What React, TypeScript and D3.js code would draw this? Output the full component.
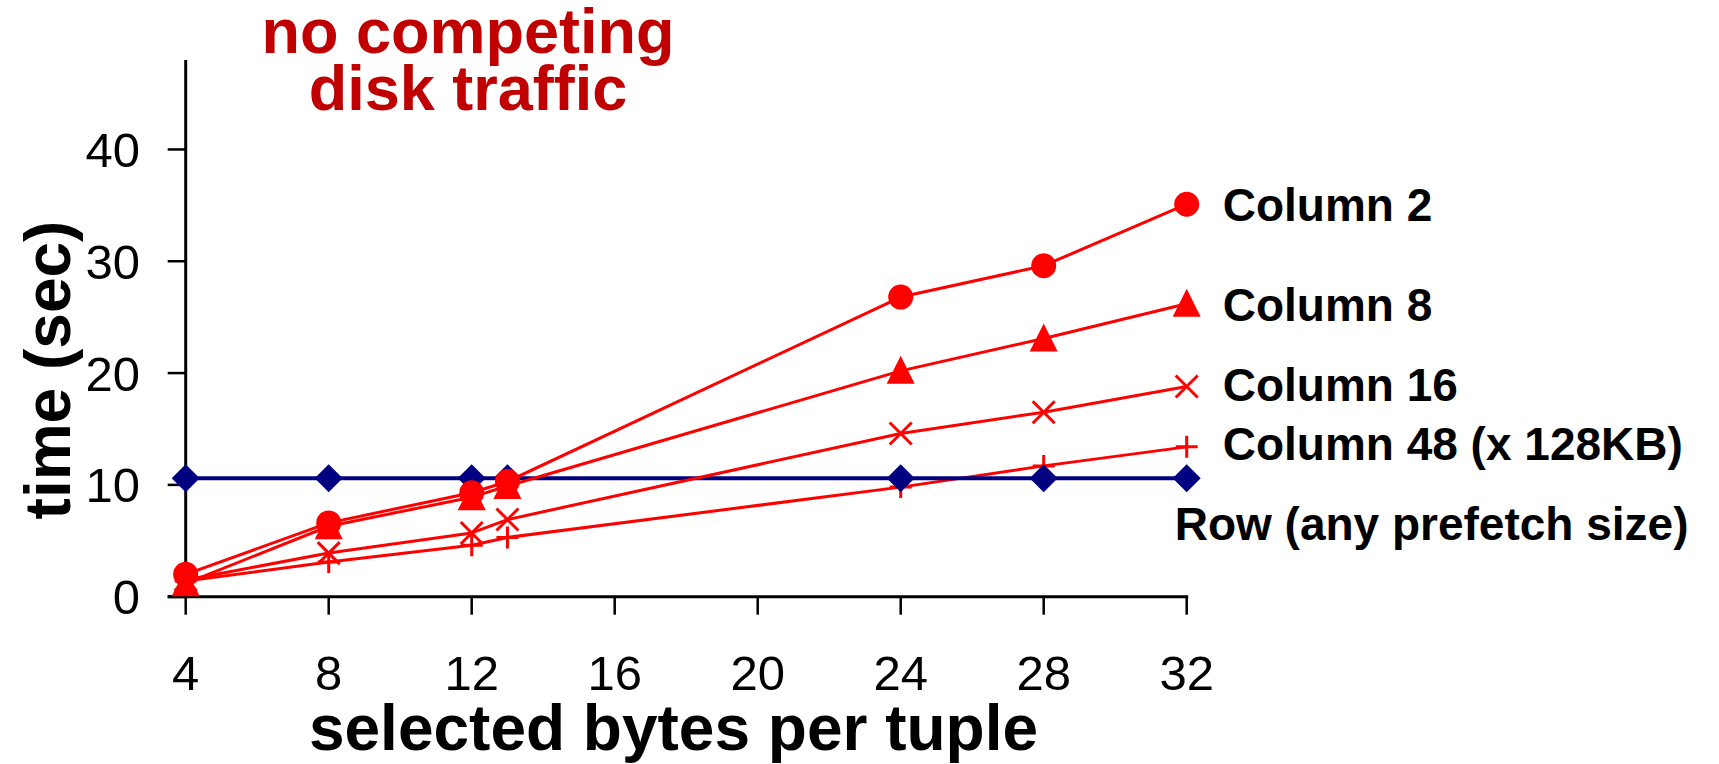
import React from "react";
import * as d3 from "d3";

const X_VALUES = [4, 8, 12, 13, 24, 28, 32];
const ROW = [10.6, 10.6, 10.6, 10.6, 10.6, 10.6, 10.6];
const COLUMN_2 = [2.0, 6.6, 9.3, 10.3, 26.8, 29.6, 35.1];
const COLUMN_8 = [1.2, 6.3, 8.9, 9.9, 20.2, 23.1, 26.2];
const COLUMN_16 = [1.5, 3.9, 5.7, 6.9, 14.6, 16.5, 18.8];
const COLUMN_48 = [1.4, 3.1, 4.6, 5.3, 9.8, 11.7, 13.4];
const X_TICKS = [4, 8, 12, 16, 20, 24, 28, 32];
const Y_TICKS = [0, 10, 20, 30, 40];

const FONT = "'Liberation Sans', Arial, Helvetica, sans-serif";
const RED = "#ff0000";
const NAVY = "#000080";

type Marker = "circle" | "triangle" | "x" | "plus" | "diamond";
interface Series {
  name: string;
  values: number[];
  color: string;
  width: number;
  marker: Marker;
  labelDx: number;
  labelDy: number;
}

// drawing order (first = bottom)
const SERIES: Series[] = [
  { name: "Column 48 (x 128KB)", values: COLUMN_48, color: RED, width: 3, marker: "plus", labelDx: 36, labelDy: -3 },
  { name: "Row (any prefetch size)", values: ROW, color: NAVY, width: 4, marker: "diamond", labelDx: -12, labelDy: 45 },
  { name: "Column 16", values: COLUMN_16, color: RED, width: 3, marker: "x", labelDx: 36, labelDy: -2 },
  { name: "Column 8", values: COLUMN_8, color: RED, width: 3, marker: "triangle", labelDx: 36, labelDy: 1 },
  { name: "Column 2", values: COLUMN_2, color: RED, width: 3, marker: "circle", labelDx: 36, labelDy: 0 },
];

function MarkerShape({ type, cx, cy, color }: { type: Marker; cx: number; cy: number; color: string }) {
  switch (type) {
    case "circle":
      return <circle cx={cx} cy={cy} r={12.5} fill={color} />;
    case "triangle": {
      const w = 28, h = 28;
      return (
        <path
          d={`M${cx},${cy - h / 2 - 1}L${cx + w / 2},${cy + h / 2 - 1}L${cx - w / 2},${cy + h / 2 - 1}Z`}
          fill={color}
        />
      );
    }
    case "diamond": {
      const w = 14, h = 14;
      return <path d={`M${cx},${cy - h}L${cx + w},${cy}L${cx},${cy + h}L${cx - w},${cy}Z`} fill={color} />;
    }
    case "x": {
      const s = 11;
      return (
        <path
          d={`M${cx - s},${cy - s}L${cx + s},${cy + s}M${cx - s},${cy + s}L${cx + s},${cy - s}`}
          stroke={color}
          strokeWidth={3}
          fill="none"
        />
      );
    }
    case "plus": {
      const s = 11;
      return (
        <path
          d={`M${cx - s},${cy}L${cx + s},${cy}M${cx},${cy - s}L${cx},${cy + s}`}
          stroke={color}
          strokeWidth={3}
          fill="none"
        />
      );
    }
  }
  return null;
}

export default function App() {
  const W = 1719, H = 764;
  const x = d3.scaleLinear().domain([4, 32]).range([185.7, 1186.7]);
  const y = d3.scaleLinear().domain([0, 48]).range([596.7, 60]);
  const line = d3
    .line<number>()
    .x((_, i) => x(X_VALUES[i]))
    .y((v) => y(v));

  const x0 = x(4);
  const y0 = y(0);

  return (
    <svg
      width={W}
      height={H}
      style={{ position: "absolute", left: 0, top: 0, display: "block", background: "#fff" }}
    >
      <rect x={0} y={0} width={W} height={H} fill="#fff" />

      {/* title */}
      <text x={468} y={53} textAnchor="middle" fontFamily={FONT} fontWeight="bold" fontSize={63} fill="#c00000">
        no competing
      </text>
      <text x={468} y={110} textAnchor="middle" fontFamily={FONT} fontWeight="bold" fontSize={63} fill="#c00000">
        disk traffic
      </text>

      {/* y axis */}
      <line x1={x0} x2={x0} y1={y(48)} y2={y0 + 1.5} stroke="#000" strokeWidth={3} />
      {Y_TICKS.map((t) => (
        <g key={`yt${t}`}>
          <line x1={x0 - 18} x2={x0} y1={y(t)} y2={y(t)} stroke="#000" strokeWidth={t === 0 ? 3 : 2.5} />
          <text x={140} y={y(t) + 17.5} textAnchor="end" fontFamily={FONT} fontSize={49} fill="#000">
            {t}
          </text>
        </g>
      ))}

      {/* x axis */}
      <line x1={x0 - 18} x2={x(32) + 1.5} y1={y0} y2={y0} stroke="#000" strokeWidth={3} />
      {X_TICKS.map((t) => (
        <g key={`xt${t}`}>
          <line x1={x(t)} x2={x(t)} y1={y0} y2={y0 + 18} stroke="#000" strokeWidth={2.5} />
          <text x={x(t)} y={690} textAnchor="middle" fontFamily={FONT} fontSize={49} fill="#000">
            {t}
          </text>
        </g>
      ))}

      {/* axis titles */}
      <text
        transform={`translate(70,370) rotate(-90)`}
        textAnchor="middle"
        fontFamily={FONT}
        fontWeight="bold"
        fontSize={64}
        fill="#000"
      >
        time (sec)
      </text>
      <text x={673.5} y={750} textAnchor="middle" fontFamily={FONT} fontWeight="bold" fontSize={64} fill="#000">
        selected bytes per tuple
      </text>

      {/* series */}
      {SERIES.map((s) => (
        <g key={s.name}>
          <path d={line(s.values) || ""} fill="none" stroke={s.color} strokeWidth={s.width} strokeLinejoin="round" />
          {s.values.map((v, i) => (
            <MarkerShape key={i} type={s.marker} cx={x(X_VALUES[i])} cy={y(v)} color={s.color} />
          ))}
        </g>
      ))}

      {/* series labels */}
      {SERIES.map((s) => {
        const last = s.values.length - 1;
        const lx = x(X_VALUES[last]) + s.labelDx;
        const ly = y(s.values[last]) + s.labelDy;
        return (
          <text
            key={`lab-${s.name}`}
            x={lx}
            y={ly + 0.358 * 46}
            fontFamily={FONT}
            fontWeight="bold"
            fontSize={46}
            fill="#000"
          >
            {s.name}
          </text>
        );
      })}
    </svg>
  );
}
